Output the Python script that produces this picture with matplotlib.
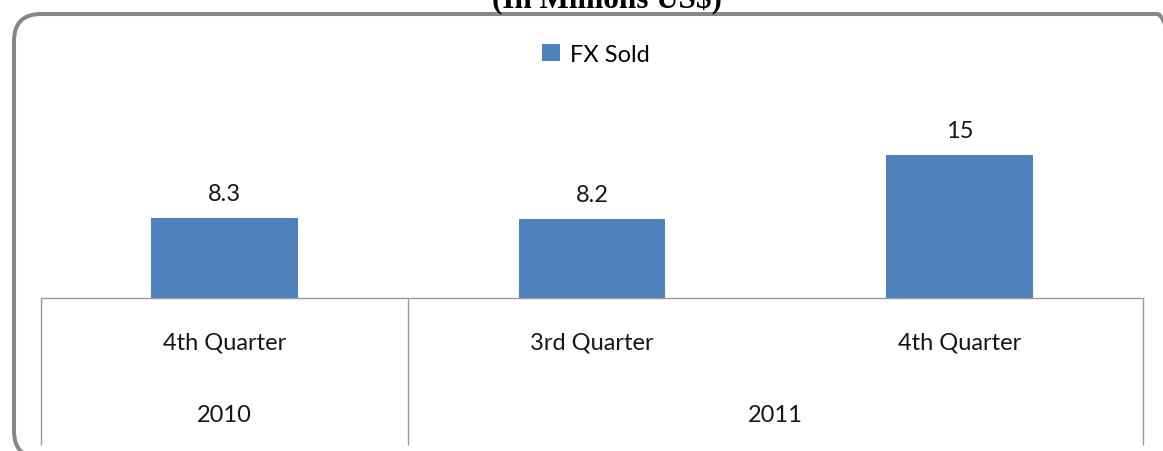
import matplotlib
matplotlib.use("Agg")
import matplotlib.pyplot as plt
from matplotlib.patches import FancyBboxPatch
from matplotlib.transforms import IdentityTransform, blended_transform_factory

# ---- data ----
quarters = ["4th Quarter", "3rd Quarter", "4th Quarter"]
values = [8.3, 8.2, 15]
value_labels = ["8.3", "8.2", "15"]
years = ["2010", "2011"]
year_spans = [1, 2]  # number of quarters per year
series_name = "FX Sold"
title = "(In Millions US$)"

W, H = 1163, 452
DPI = 100
fig = plt.figure(figsize=(W / DPI, H / DPI), dpi=DPI)

# axes placement in pixels (from top-left)
ax_left, ax_right = 41, 1143
ax_base = 298.5
px_per_unit = 9.52
ymax = 16
ax_h = ymax * px_per_unit
ax = fig.add_axes([ax_left / W, 1 - ax_base / H, (ax_right - ax_left) / W, ax_h / H])

BAR = "#4F81BD"
LINE = "#9a9a9a"
TXT = "#161616"
FONT = "Lato"
FS = 17

x = list(range(len(values)))
bars = ax.bar(x, values, width=0.4, color=BAR, label=series_name, zorder=2)
ax.set_xlim(-0.5, len(values) - 0.5)
ax.set_ylim(0, ymax)

for b, lab in zip(bars, value_labels):
    ax.annotate(lab, (b.get_x() + b.get_width() / 2, b.get_height()),
                xytext=(0, 13), textcoords="offset points", ha="center", va="baseline",
                fontsize=FS, family=FONT, color=TXT, annotation_clip=False)

for s in ["top", "right", "left"]:
    ax.spines[s].set_visible(False)
ax.spines["bottom"].set_color(LINE)
ax.spines["bottom"].set_linewidth(1.0)
ax.set_yticks([])
ax.set_xticks([])
ax.set_facecolor("none")

def yfrac(px_from_top):
    return -(px_from_top - ax_base) / ax_h

trans = blended_transform_factory(ax.transData, ax.transAxes)

# quarter labels
for xi, q in zip(x, quarters):
    ax.text(xi, yfrac(343), q, transform=trans, ha="center", va="center",
            fontsize=FS, family=FONT, color=TXT)

# year labels and group separators
start = 0
bounds = [-0.5]
for yr, span in zip(years, year_spans):
    center = start + (span - 1) / 2
    ax.text(center, yfrac(416), yr, transform=trans, ha="center", va="center",
            fontsize=FS, family=FONT, color=TXT)
    start += span
    bounds.append(start - 0.5)
for bx in bounds:
    ax.plot([bx, bx], [0, yfrac(446)], transform=trans, color=LINE, lw=1.0,
            clip_on=False, solid_capstyle="butt")

# legend
fig.legend(handles=[bars], labels=[series_name], loc="center",
           bbox_to_anchor=(596 / W, 1 - 55 / H), frameon=False,
           handlelength=0.75, handleheight=0.75, handletextpad=0.45,
           prop={"family": FONT, "size": FS})

# outer rounded frame (pixel coordinates)
fl, fr, ft, fb = 14, 1184, 15, 459
frame = FancyBboxPatch((fl, H - fb), fr - fl, fb - ft,
                       boxstyle="round,pad=0,rounding_size=27",
                       transform=IdentityTransform(), facecolor="none",
                       edgecolor="#878787", linewidth=2.9, zorder=0)
fig.add_artist(frame)

# title (cut off at the top like the source)
fig.text(607 / W, 1 - 8 / H, title, ha="center", va="baseline",
         fontsize=22.4, family="Liberation Serif", fontweight="bold", color="black")

fig.savefig("out.png", dpi=DPI)
